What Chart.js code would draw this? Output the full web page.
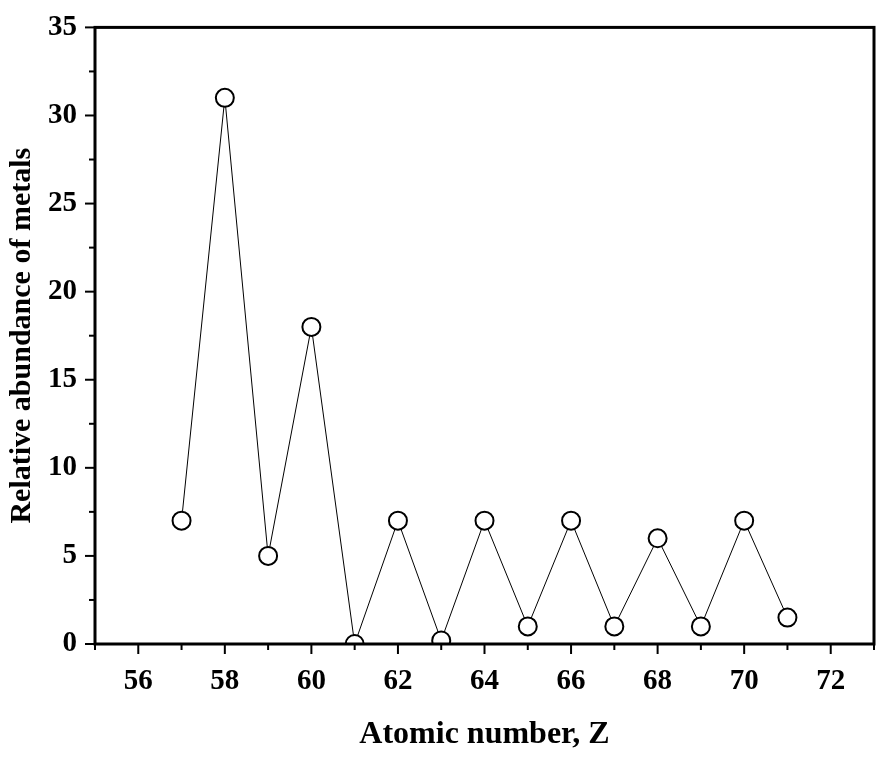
<!DOCTYPE html>
<html><head><meta charset="utf-8">
<script src="https://cdn.jsdelivr.net/npm/chart.js@4"></script>
<style>html,body{margin:0;padding:0;background:#fff}#w{width:886px;height:758px}</style>
</head><body><div id="w"><canvas id="c"></canvas></div>
<script>
const atomicNumbers = [57,58,59,60,61,62,63,64,65,66,67,68,69,70,71];
const abundance = [7,31,5,18,0,7,0.2,7,1,7,1,6,1,7,1.5];
const xTitle = 'Atomic number, Z';
const yTitle = 'Relative abundance of metals';
const font = 'Liberation Serif';

const frame = {
  id:'frame',
  afterDraw(ch){
    const {ctx, chartArea:a, scales:{x,y}} = ch;
    ctx.save();
    ctx.strokeStyle='#000';ctx.lineWidth=3;
    ctx.strokeRect(a.left,a.top,a.right-a.left,a.bottom-a.top);
    ctx.lineWidth=2;
    for(let v=55;v<=73;v++){
      const px=x.getPixelForValue(v);
      const len = v%2===0?10:6;
      ctx.beginPath();ctx.moveTo(px,a.bottom);ctx.lineTo(px,a.bottom+len);ctx.stroke();
    }
    for(let v=0;v<=35;v+=2.5){
      const py=y.getPixelForValue(v);
      const len = v%5===0?10:6;
      ctx.beginPath();ctx.moveTo(a.left,py);ctx.lineTo(a.left-len,py);ctx.stroke();
    }
    ctx.restore();
  }
};

new Chart(document.getElementById('c'),{
  type:'line',
  data:{datasets:[{
    data: atomicNumbers.map((z,i)=>({x:z,y:abundance[i]})),
    borderColor:'#000',borderWidth:1,
    pointRadius:9,pointBackgroundColor:'#fff',pointBorderColor:'#000',pointBorderWidth:2,
    tension:0
  }]},
  options:{
    responsive:true,maintainAspectRatio:false,animation:false,
    layout:{padding:{top:12,right:0,left:0,bottom:0}},
    plugins:{legend:{display:false},tooltip:{enabled:false}},
    scales:{
      x:{type:'linear',min:55,max:73,
        grid:{display:false},border:{display:false},
        afterFit(s){s.height=114;},
        ticks:{stepSize:1,padding:12,color:'#000',maxRotation:0,autoSkip:false,
          font:{family:font,size:29,weight:'bold'},
          callback:v=> (v%2===0 && v>=56 && v<=72)?String(v):''},
        title:{display:true,text:xTitle,color:'#000',padding:{top:20},font:{family:font,size:32,weight:'bold'}}
      },
      y:{min:0,max:35,
        grid:{display:false},border:{display:false},
        afterFit(s){s.width=95;},
        ticks:{stepSize:5,padding:10,color:'#000',font:{family:font,size:29,weight:'bold'}},
        title:{display:true,text:yTitle,color:'#000',padding:{bottom:2},font:{family:font,size:30,weight:'bold'}}
      }
    }
  },
  plugins:[frame]
});
</script></body></html>
